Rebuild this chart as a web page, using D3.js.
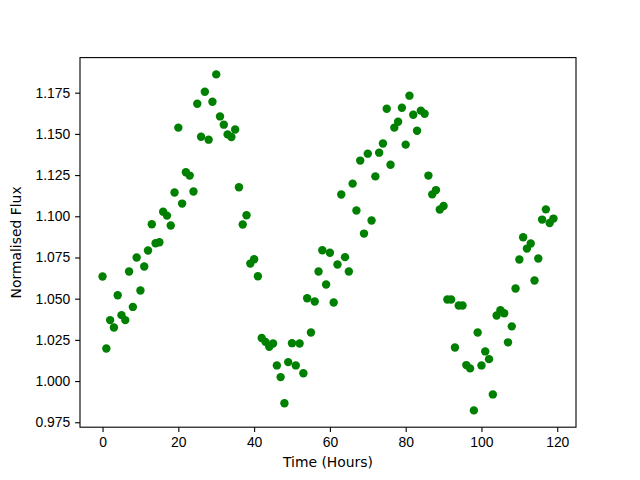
<!DOCTYPE html>
<html>
<head>
<meta charset="utf-8">
<script src="https://cdn.jsdelivr.net/npm/d3@7"></script>
<style>
  body { margin: 0; background: #fff; }
  svg { display: block; font-family: "DejaVu Sans", sans-serif; }
  .axis text { font-size: 13.9px; fill: #000; }
  .axis path, .axis line { stroke: #000; stroke-width: 1.1px; }
</style>
</head>
<body>
<svg id="chart" width="640" height="480"></svg>
<script>
// time of each sample, hours
const hours = [
  0, 1, 2, 3, 4, 5, 6, 7, 8, 9, 10, 11, 12, 13, 14, 15, 16, 17, 18, 19,
  20, 21, 22, 23, 24, 25, 26, 27, 28, 29, 30, 31, 32, 33, 34, 35, 36, 37, 38, 39,
  40, 41, 42, 43, 44, 45, 46, 47, 48, 49, 50, 51, 52, 53, 54, 55, 56, 57, 58, 59,
  60, 61, 62, 63, 64, 65, 66, 67, 68, 69, 70, 71, 72, 73, 74, 75, 76, 77, 78, 79,
  80, 81, 82, 83, 84, 85, 86, 87, 88, 89, 90, 91, 92, 93, 94, 95, 96, 97, 98, 99,
  100, 101, 102, 103, 104, 105, 106, 107, 108, 109, 110, 111, 112, 113, 114, 115, 116, 117, 118, 119
];

// normalised flux
const flux = [
  1.0635, 1.0198, 1.0370, 1.0325, 1.0521, 1.0400, 1.0370, 1.0665, 1.0450, 1.0750,
  1.0550, 1.0695, 1.0792, 1.0952, 1.0836, 1.0842, 1.1028, 1.1004, 1.0944, 1.1144,
  1.1538, 1.1077, 1.1267, 1.1247, 1.1150, 1.1683, 1.1483, 1.1756, 1.1465, 1.1695,
  1.1861, 1.1606, 1.1556, 1.1497, 1.1481, 1.1527, 1.1176, 1.0950, 1.1006, 1.0713,
  1.0739, 1.0636, 1.0261, 1.0238, 1.0208, 1.0228, 1.0095, 1.0024, 0.9865, 1.0115,
  1.0230, 1.0095, 1.0228, 1.0047, 1.0503, 1.0295, 1.0483, 1.0665, 1.0794, 1.0586,
  1.0779, 1.0477, 1.0707, 1.1132, 1.0752, 1.0665, 1.1198, 1.1035, 1.1338, 1.0895,
  1.1380, 1.0974, 1.1242, 1.1386, 1.1442, 1.1653, 1.1313, 1.1538, 1.1574, 1.1659,
  1.1435, 1.1732, 1.1616, 1.1519, 1.1641, 1.1622, 1.1247, 1.1133, 1.1159, 1.1041,
  1.1062, 1.0495, 1.0495, 1.0204, 1.0459, 1.0459, 1.0097, 1.0077, 0.9822, 1.0295,
  1.0095, 1.0180, 1.0133, 0.9919, 1.0398, 1.0430, 1.0412, 1.0235, 1.0332, 1.0562,
  1.0738, 1.0873, 1.0804, 1.0835, 1.0610, 1.0744, 1.0980, 1.1042, 1.0959, 1.0986
];

const xTicks = [0, 20, 40, 60, 80, 100, 120];
const yTicks = [0.975, 1.000, 1.025, 1.050, 1.075, 1.100, 1.125, 1.150, 1.175];

const width = 640;
const height = 480;
const margin = { top: 57.6, right: 64, bottom: 52.8, left: 80 };
const plotW = width - margin.left - margin.right;
const plotH = height - margin.top - margin.bottom;

// matplotlib style 5% padding on the data range
function padded(extent) {
  const pad = (extent[1] - extent[0]) * 0.05;
  return [extent[0] - pad, extent[1] + pad];
}

const x = d3.scaleLinear().domain(padded(d3.extent(hours))).range([0, plotW]);
const y = d3.scaleLinear().domain(padded(d3.extent(flux))).range([plotH, 0]);

const svg = d3.select('#chart');
const g = svg.append('g').attr('transform', `translate(${margin.left},${margin.top})`);

const points = hours.map((h, i) => ({ h, f: flux[i] }));

g.selectAll('circle')
  .data(points)
  .enter()
  .append('circle')
  .attr('cx', d => x(d.h))
  .attr('cy', d => y(d.f))
  .attr('r', 4.2)
  .attr('fill', '#008000');

// x axis
g.append('g')
  .attr('class', 'axis')
  .attr('transform', `translate(0,${plotH})`)
  .call(d3.axisBottom(x).tickValues(xTicks).tickSize(4.9).tickPadding(4.9).tickSizeOuter(0))
  .call(a => a.select('.domain').remove());

// y axis
g.append('g')
  .attr('class', 'axis')
  .call(d3.axisLeft(y).tickValues(yTicks).tickFormat(d3.format('.3f')).tickSize(4.9).tickPadding(4.9).tickSizeOuter(0))
  .call(a => a.select('.domain').remove());

// frame
g.append('rect')
  .attr('width', plotW)
  .attr('height', plotH)
  .attr('fill', 'none')
  .attr('stroke', '#000')
  .attr('stroke-width', 1.1);

svg.append('text')
  .attr('x', margin.left + plotW / 2)
  .attr('y', 467)
  .attr('text-anchor', 'middle')
  .style('font-size', '13.9px')
  .text('Time (Hours)');

svg.append('text')
  .attr('transform', `translate(21,${margin.top + plotH / 2}) rotate(-90)`)
  .attr('text-anchor', 'middle')
  .style('font-size', '13.9px')
  .text('Normalised Flux');
</script>
</body>
</html>
